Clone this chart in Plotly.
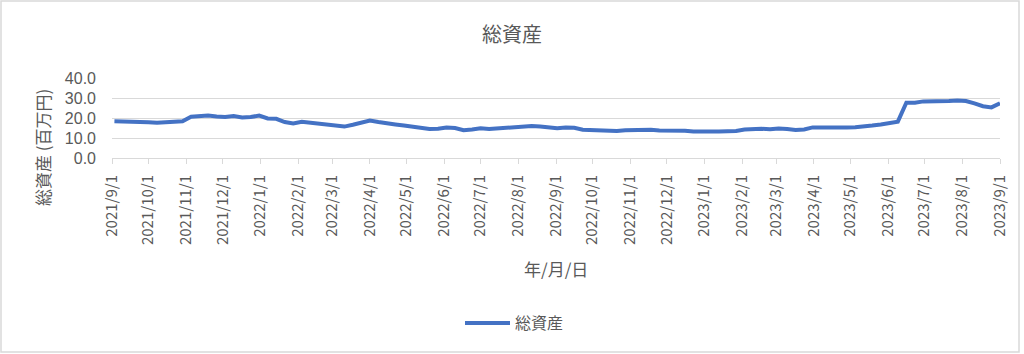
import pandas as pd
import plotly.graph_objects as go

# Weekly data (百万円)
dates = pd.date_range("2021-09-03", periods=105, freq="7D")
values = [
    18.4, 18.4, 18.4, 18.3, 17.9, 17.6, 17.9, 18.2, 18.4, 20.6,
    21.1, 21.2, 20.7, 20.5, 21.0, 20.3, 20.5, 21.2, 19.8, 19.6,
    18.0, 17.3, 18.1, 17.6, 17.2, 16.9, 16.6, 15.7, 16.6, 17.9,
    18.7, 18.0, 17.2, 16.8, 16.2, 15.7, 15.4, 14.5, 14.6, 15.2,
    15.0, 13.9, 14.3, 14.9, 14.5, 14.8, 15.1, 15.5, 15.8, 16.0,
    15.7, 15.3, 14.9, 15.2, 15.1, 14.1, 14.0, 13.8, 13.3, 13.5,
    13.9, 14.1, 14.4, 14.1, 13.8, 13.8, 13.8, 13.6, 13.2, 13.1,
    13.1, 13.2, 13.4, 13.5, 14.2, 14.6, 14.6, 14.4, 14.8, 14.5,
    14.0, 14.3, 15.3, 15.2, 15.1, 15.2, 15.3, 15.4, 15.6, 16.2,
    16.8, 17.7, 18.2, 27.6, 27.6, 28.3, 28.2, 28.1, 28.5, 28.7,
    28.5, 27.3, 25.9, 25.3, 27.4,
]
series_name = "総資産"
title_text = "総資産"
y_title = "総資産 (百万円)"
x_title = "年/月/日"

tick_dates = pd.date_range("2021-09-01", "2023-09-01", freq="MS")
tick_text = [f"{d.year}/{d.month}/{d.day}" for d in tick_dates]
y_ticks = [0, 10, 20, 30, 40]

W, H = 1024, 354
L, R, T, B = 112, 24, 78, 196
pw, ph = W - L - R, H - T - B

grey = "#595959"
light = "#d9d9d9"
font_family = "Noto Sans CJK JP, Liberation Sans, sans-serif"

fig = go.Figure()
fig.add_trace(go.Scatter(
    x=dates, y=values, mode="lines", name=series_name,
    line=dict(color="#4472C4", width=4),
))

fig.update_layout(
    width=W, height=H,
    margin=dict(l=L, r=R, t=T, b=B, pad=0),
    paper_bgcolor="white", plot_bgcolor="white",
    font=dict(family=font_family, color=grey, size=13),
    title=dict(text=title_text, x=0.5, xref="container", xanchor="center",
               y=1 - 35 / H, yref="container", yanchor="middle",
               font=dict(size=20, color=grey)),
    showlegend=True,
    legend=dict(orientation="h", x=460 / W, xref="container", xanchor="left",
                y=1 - 323 / H, yref="container", yanchor="middle",
                itemwidth=45,
                font=dict(size=16, color=grey), bgcolor="rgba(0,0,0,0)"),
    xaxis=dict(
        type="date",
        range=[tick_dates[0], tick_dates[-1]],
        tickvals=list(tick_dates), ticktext=tick_text,
        tickangle=-90, ticks="outside", ticklen=5, tickcolor=light,
        showline=True, linecolor=light, linewidth=1,
        showgrid=False, zeroline=False,
        ticklabelstandoff=5,
        tickfont=dict(size=15, color=grey),
    ),
    yaxis=dict(
        range=[0, 40], tickvals=y_ticks, tickformat=".1f",
        showgrid=True, gridcolor=light, gridwidth=1,
        zeroline=False, showline=False, ticks="",
        ticklabelstandoff=15,
        tickfont=dict(size=16, color=grey, family="Liberation Sans, sans-serif"),
    ),
    annotations=[
        dict(text=y_title, textangle=-90, xref="paper", yref="paper",
             x=(42 - L) / pw, y=(T + ph - 148) / ph,
             xanchor="center", yanchor="middle", showarrow=False,
             font=dict(size=17, color=grey)),
        dict(text=x_title, xref="paper", yref="paper",
             x=0.5, y=-(268 - T - ph) / ph,
             xanchor="center", yanchor="middle", showarrow=False,
             font=dict(size=17, color=grey)),
    ],
    shapes=[
        dict(type="rect", xref="paper", yref="paper",
             x0=(1 - L) / pw, x1=(1019 - L) / pw,
             y0=-(352 - T - ph) / ph, y1=1 + (T - 1) / ph,
             line=dict(color=light, width=1.5), layer="below"),
    ],
)

fig.write_html("out.html")
